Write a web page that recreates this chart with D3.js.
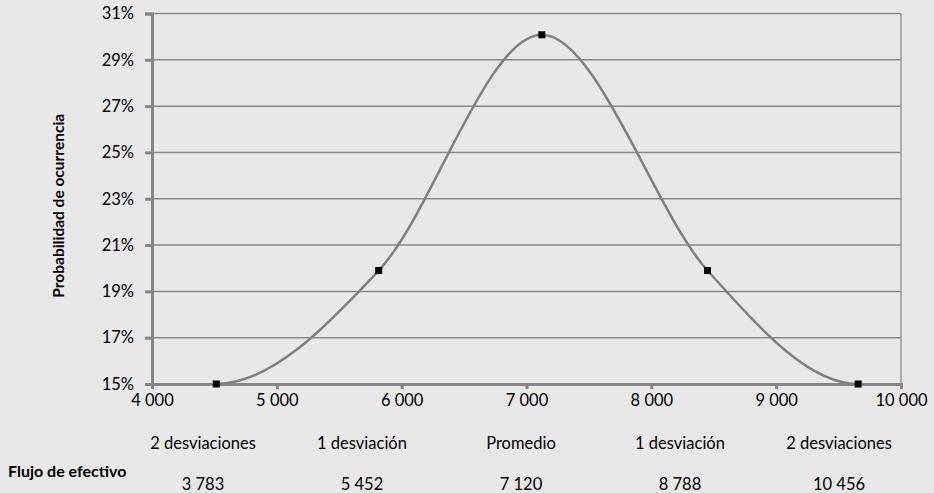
<!DOCTYPE html>
<html><head><meta charset="utf-8">
<script src="https://cdn.jsdelivr.net/npm/d3@7"></script>
<style>
html,body{margin:0;padding:0;background:#e8e8e8;}
svg{display:block;font-family:Lato,"Open Sans",sans-serif;}
</style></head>
<body>
<svg id="c" width="934" height="493"></svg>
<script>
// Data
const flujo = [4515, 5816, 7123, 8450, 9657];
const probabilidad = [15.0, 19.9, 30.08, 19.9, 15.0];
const xTicks = [4000, 5000, 6000, 7000, 8000, 9000, 10000];
const yTicks = [15, 17, 19, 21, 23, 25, 27, 29, 31];
const categorias = ["2 desviaciones", "1 desviación", "Promedio", "1 desviación", "2 desviaciones"];
const valoresFlujo = ["3 783", "5 452", "7 120", "8 788", "10 456"];
const yTitulo = "Probabilidad de ocurrencia";
const filaTitulo = "Flujo de efectivo";

const svg = d3.select("#c");
const L = 152, R = 901, T = 13.5, B = 384;
const x = d3.scaleLinear().domain([4000, 10000]).range([L, R]);
const y = d3.scaleLinear().domain([15, 31]).range([B, T]);
const axisColor = "#868686";
const fs = "16.5px";
const fmtThousands = v => d3.format(",")(v).replace(/,/g, " ");

// Smooth curve (spreadsheet-style): Catmull-Rom interior tangents, flat end tangents
function curveSmoothFlatEnds(context) {
  let P = [];
  return {
    areaStart() {}, areaEnd() {},
    lineStart() { P = []; },
    point(px, py) { P.push([+px, +py]); },
    lineEnd() {
      const n = P.length;
      if (!n) return;
      context.moveTo(P[0][0], P[0][1]);
      if (n === 1) return;
      const tan = P.map((p, i) => {
        if (i === 0) return [P[1][0] - P[0][0], 0];
        if (i === n - 1) return [P[n - 1][0] - P[n - 2][0], 0];
        return [(P[i + 1][0] - P[i - 1][0]) / 2, (P[i + 1][1] - P[i - 1][1]) / 2];
      });
      for (let i = 0; i < n - 1; i++) {
        const a = P[i], b = P[i + 1];
        context.bezierCurveTo(a[0] + tan[i][0] / 3, a[1] + tan[i][1] / 3,
                              b[0] - tan[i + 1][0] / 3, b[1] - tan[i + 1][1] / 3,
                              b[0], b[1]);
      }
    }
  };
}

// gridlines
svg.append("g").selectAll("line").data(yTicks.filter(v => v > 15)).join("line")
  .attr("x1", L).attr("x2", R).attr("y1", d => y(d)).attr("y2", d => y(d))
  .attr("stroke", "#8a8a8a").attr("stroke-width", 1.5);
// right border
svg.append("line").attr("x1", R).attr("x2", R).attr("y1", T).attr("y2", B)
  .attr("stroke", "#9a9a9a").attr("stroke-width", 1.5);

// y axis
const yAxis = d3.axisLeft(y).tickValues(yTicks).tickFormat(d => d + "%").tickSize(7).tickPadding(11);
const gy = svg.append("g").attr("transform", `translate(${L},0)`).call(yAxis);
gy.select(".domain").attr("stroke", axisColor).attr("stroke-width", 3);
gy.selectAll(".tick line").attr("stroke", axisColor).attr("stroke-width", 3);
gy.selectAll(".tick text").attr("font-size", fs).attr("fill", "#000").attr("font-family", "Lato");

// x axis
const xAxis = d3.axisBottom(x).tickValues(xTicks).tickFormat(fmtThousands).tickSize(5).tickPadding(5);
const gx = svg.append("g").attr("transform", `translate(0,${B})`).call(xAxis);
gx.select(".domain").attr("stroke", axisColor).attr("stroke-width", 3);
gx.selectAll(".tick line").attr("stroke", axisColor).attr("stroke-width", 3);
gx.selectAll(".tick text").attr("font-size", fs).attr("fill", "#000").attr("font-family", "Lato");

// curve
const pts = flujo.map((f, i) => [f, probabilidad[i]]);
const line = d3.line().x(d => x(d[0])).y(d => y(d[1])).curve(curveSmoothFlatEnds);
svg.append("path").datum(pts).attr("d", line).attr("fill", "none")
  .attr("stroke", "#808080").attr("stroke-width", 2.5);
// markers
svg.append("g").selectAll("rect").data(pts).join("rect")
  .attr("x", d => x(d[0]) - 3.5).attr("y", d => y(d[1]) - 3.5)
  .attr("width", 7).attr("height", 7).attr("fill", "#000");

// y title
svg.append("text").attr("transform", `translate(64,${(T + B) / 2 + 7}) rotate(-90)`)
  .attr("text-anchor", "middle").attr("font-weight", "bold").attr("font-size", "15.5px")
  .attr("fill", "#000").text(yTitulo);

// table below
const col = d3.scalePoint().domain(d3.range(categorias.length)).range([203, 839]);
svg.append("g").selectAll("text").data(categorias).join("text")
  .attr("x", (d, i) => col(i)).attr("y", 449).attr("text-anchor", "middle")
  .attr("font-size", fs).attr("fill", "#000").text(d => d);
svg.append("g").selectAll("text").data(valoresFlujo).join("text")
  .attr("x", (d, i) => col(i)).attr("y", 490).attr("text-anchor", "middle")
  .attr("font-size", fs).attr("fill", "#000").text(d => d);
svg.append("text").attr("x", 8).attr("y", 477).attr("font-weight", "bold")
  .attr("font-size", "16px").attr("fill", "#000").text(filaTitulo);
</script>
</body></html>
